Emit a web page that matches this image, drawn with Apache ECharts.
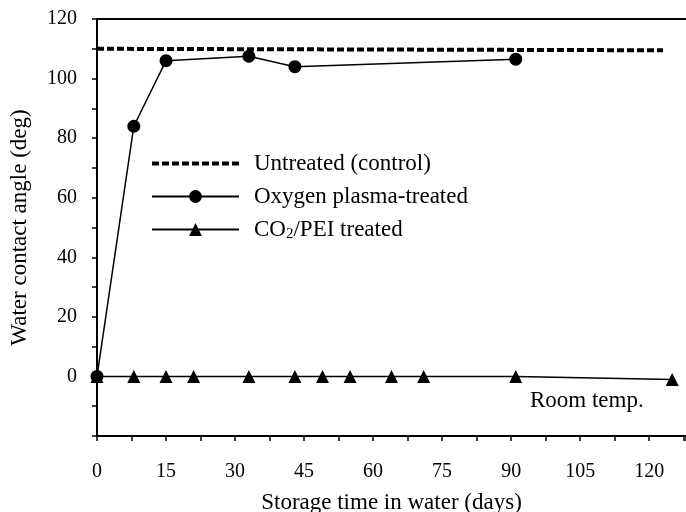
<!DOCTYPE html>
<html>
<head>
<meta charset="utf-8">
<script src="https://cdn.jsdelivr.net/npm/echarts@6/dist/echarts.min.js"></script>
<style>
  html, body { margin: 0; padding: 0; background: #fff; }
  #main { width: 686px; height: 512px; }
</style>
</head>
<body>
<div id="main"></div>
<script>
  // data (days, contact angle in deg)
  var untreatedDays = [0, 123]
  var untreatedAngle = [110, 109.5]
  var oxygenDays = [0, 8, 15, 33, 43, 91]
  var oxygenAngle = [0, 84, 106, 107.5, 104, 106.5]
  var co2Days = [0, 8, 15, 21, 33, 43, 49, 55, 64, 71, 91, 125]
  var co2Angle = [0, 0, 0, 0, 0, 0, 0, 0, 0, 0, 0, -1]
  var xTicks = [0, 15, 30, 45, 60, 75, 90, 105, 120]
  var yTicks = [0, 20, 40, 60, 80, 100, 120]

  function pairs(xs, ys) {
    return xs.map(function (x, i) { return [x, ys[i]] })
  }

  var serif = 'Liberation Serif'
  var ink = '#000'

  var chart = echarts.init(document.getElementById('main'))
  var option = {
    backgroundColor: '#fff',
    animation: false,
    textStyle: { fontFamily: serif, color: ink },
    grid: { left: 97, right: 0, top: 19, bottom: 76, outerBoundsMode: 'none', containLabel: false },
    legend: {
      orient: 'vertical',
      left: 150,
      top: 152,
      padding: 0,
      itemWidth: 87,
      itemHeight: 16,
      itemGap: 10,
      textStyle: {
        fontFamily: serif, fontSize: 23, color: ink, padding: [0, 0, 0, 10],
        rich: {
          n: { fontFamily: serif, fontSize: 23, color: ink },
          s: { fontFamily: serif, fontSize: 15, color: ink, verticalAlign: 'bottom', padding: [9, 0, 0, 0] }
        }
      },
      formatter: function (name) {
        if (name.indexOf('CO2') === 0) return '{n|CO}{s|2}{n|/PEI treated}'
        return '{n|' + name + '}'
      },
      data: [
        { name: 'Untreated (control)', itemStyle: { opacity: 0 }, lineStyle: { width: 4, type: [7, 3] } },
        { name: 'Oxygen plasma-treated', lineStyle: { width: 2 } },
        { name: 'CO2/PEI treated' }
      ]
    },
    xAxis: [{
      type: 'value',
      min: 0,
      max: 128,
      interval: 15,
      name: 'Storage time in water (days)',
      nameLocation: 'middle',
      nameGap: 55,
      nameTextStyle: { fontFamily: serif, fontSize: 23, color: ink },
      axisLine: { onZero: false, lineStyle: { color: ink, width: 2 } },
      axisTick: { show: true, inside: false, length: 5, lineStyle: { color: ink, width: 1.5 } },
      minorTick: { show: true, splitNumber: 2, length: 5, lineStyle: { color: ink, width: 1.5 } },
      axisLabel: {
        margin: 26, fontFamily: serif, fontSize: 20, color: ink,
        formatter: function (v) { return xTicks.indexOf(v) >= 0 ? String(v) : '' }
      },
      splitLine: { show: false }
    }, {
      type: 'value',
      position: 'top',
      min: 0,
      max: 128,
      axisLine: { show: true, onZero: false, lineStyle: { color: ink, width: 2 } },
      axisTick: { show: false },
      axisLabel: { show: false },
      splitLine: { show: false }
    }],
    yAxis: {
      type: 'value',
      min: -20,
      max: 120,
      interval: 20,
      name: 'Water contact angle (deg)',
      nameLocation: 'middle',
      nameGap: 66,
      nameTextStyle: { fontFamily: serif, fontSize: 23, color: ink },
      axisLine: { show: true, onZero: false, lineStyle: { color: ink, width: 2 } },
      axisTick: { show: true, length: 5, lineStyle: { color: ink, width: 1.5 } },
      minorTick: { show: true, splitNumber: 2, length: 5, lineStyle: { color: ink, width: 1.5 } },
      axisLabel: {
        margin: 20, fontFamily: serif, fontSize: 20, color: ink, padding: [8, 0, 0, 0],
        formatter: function (v) { return yTicks.indexOf(v) >= 0 ? String(v) : '' }
      },
      splitLine: { show: false }
    },
    series: [{
      name: 'Untreated (control)',
      type: 'line',
      data: pairs(untreatedDays, untreatedAngle),
      symbol: 'none',
      lineStyle: { color: ink, width: 4, type: [7, 3] },
      itemStyle: { color: ink }
    }, {
      name: 'Oxygen plasma-treated',
      type: 'line',
      data: pairs(oxygenDays, oxygenAngle),
      symbol: 'circle',
      symbolSize: 13,
      lineStyle: { color: ink, width: 1.5 },
      itemStyle: { color: ink }
    }, {
      name: 'CO2/PEI treated',
      type: 'line',
      data: pairs(co2Days, co2Angle),
      symbol: 'triangle',
      symbolSize: 13,
      lineStyle: { color: ink, width: 1.5 },
      itemStyle: { color: ink },
      z: 3
    }],
    graphic: [{
      type: 'text',
      left: 530,
      top: 389,
      style: { text: 'Room temp.', font: '23px "Liberation Serif"', fill: ink }
    }]
  }
  chart.setOption(option)
  window.addEventListener('resize', function () { chart.resize() })
</script>
</body>
</html>
